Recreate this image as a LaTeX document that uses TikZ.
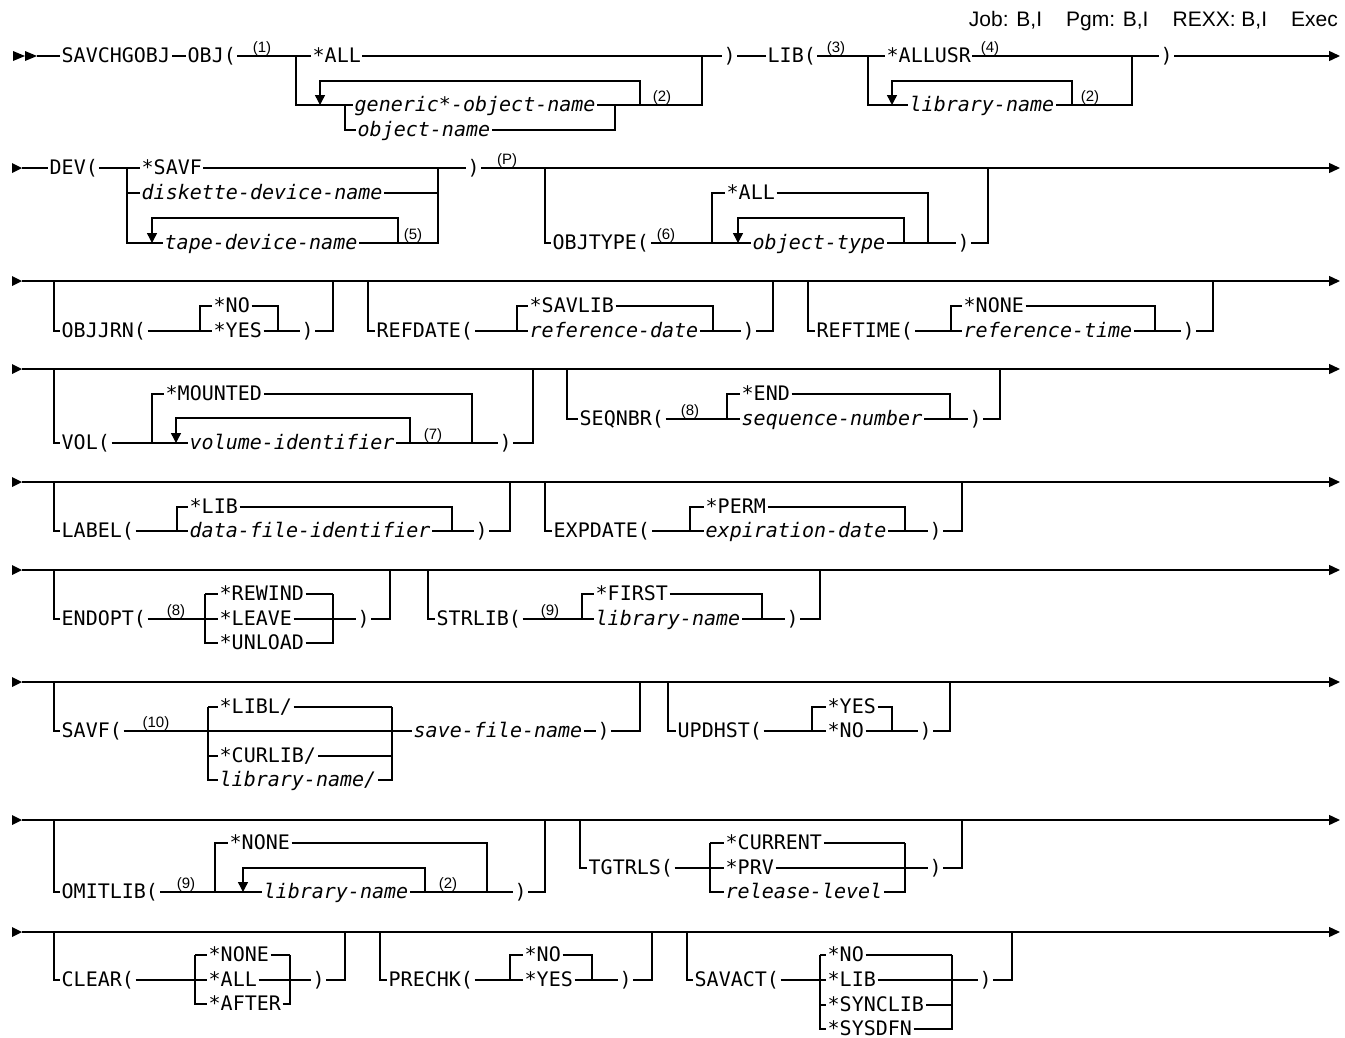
\documentclass[tikz,border=0pt]{standalone}
\usepackage{fontspec}
\setmonofont{DejaVu Sans Mono}
\newfontfamily\notefont{Liberation Sans}
\usetikzlibrary{arrows.meta,backgrounds}

\tikzstyle{kw} = [font=\ttfamily\fontsize{20}{20}\selectfont, anchor=west, fill=white, inner sep=1.5pt, text height=13pt, text depth=0pt]
\tikzstyle{var} = [kw, font=\ttfamily\itshape\fontsize{20}{20}\selectfont]
\tikzstyle{note} = [font=\notefont\fontsize{15}{15}\selectfont, anchor=south, inner sep=0.3pt]
\tikzstyle{rail} = [line width=1.4pt]
\tikzstyle{loop} = [rail, -{Triangle[length=10pt,width=10pt]}]
\tikzstyle{cont} = [rail, -{Triangle[length=11pt,width=10pt]}]

\begin{document}
\begin{tikzpicture}[x=1pt, y=-1pt]
	\useasboundingbox (0,0) rectangle (1345,1037);

	\node[anchor=base east, inner sep=0, font=\notefont\fontsize{21}{21}\selectfont] (envs) at (1338,26) {Job: B,I\hspace{24pt}Pgm: B,I\hspace{24pt}REXX: B,I\hspace{24pt}Exec};

	% SAVCHGOBJ OBJ( ... ) LIB( ... )
	\node[kw] (savchgobj) at (60,56) {SAVCHGOBJ};
	\node[kw] (obj) at (186,56) {OBJ(};
	\node[note] (n1) at (262,56) {(1)};
	\node[kw] (objall) at (311,56) {*ALL};
	\node[var] (generic) at (353,105) {generic*-object-name};
	\node[var] (objname) at (356,130) {object-name};
	\node[note] (n2a) at (662,105) {(2)};
	\node[kw] (objclose) at (722,56) {)};
	\node[kw] (lib) at (766,56) {LIB(};
	\node[note] (n3) at (836,56) {(3)};
	\node[kw] (allusr) at (885,56) {*ALLUSR};
	\node[note] (n4) at (990,56) {(4)};
	\node[var] (libname) at (908,105) {library-name};
	\node[note] (n2b) at (1090,105) {(2)};
	\node[kw] (libclose) at (1159,56) {)};

	% DEV( ... ) OBJTYPE( ... )
	\node[kw] (dev) at (48,168) {DEV(};
	\node[kw] (savf) at (140,168) {*SAVF};
	\node[var] (diskette) at (140,193) {diskette-device-name};
	\node[var] (tape) at (163,243) {tape-device-name};
	\node[note] (n5) at (413,243) {(5)};
	\node[kw] (devclose) at (466,168) {)};
	\node[note] (np) at (507,168) {(P)};
	\node[kw] (objtype) at (551,243) {OBJTYPE(};
	\node[note] (n6) at (666,243) {(6)};
	\node[kw] (typeall) at (725,193) {*ALL};
	\node[var] (typename) at (751,243) {object-type};
	\node[kw] (typeclose) at (956,243) {)};

	% OBJJRN REFDATE REFTIME
	\node[kw] (objjrn) at (60,331) {OBJJRN(};
	\node[kw] (jrnno) at (212,306) {*NO};
	\node[kw] (jrnyes) at (212,331) {*YES};
	\node[kw] (jrnclose) at (300,331) {)};
	\node[kw] (refdate) at (375,331) {REFDATE(};
	\node[kw] (savlib) at (528,306) {*SAVLIB};
	\node[var] (datev) at (528,331) {reference-date};
	\node[kw] (dateclose) at (741,331) {)};
	\node[kw] (reftime) at (815,331) {REFTIME(};
	\node[kw] (timenone) at (962,306) {*NONE};
	\node[var] (timev) at (962,331) {reference-time};
	\node[kw] (timeclose) at (1181,331) {)};

	% VOL SEQNBR
	\node[kw] (vol) at (60,443) {VOL(};
	\node[kw] (mounted) at (164,394) {*MOUNTED};
	\node[var] (volid) at (188,443) {volume-identifier};
	\node[note] (n7) at (433,443) {(7)};
	\node[kw] (volclose) at (498,443) {)};
	\node[kw] (seqnbr) at (578,419) {SEQNBR(};
	\node[note] (n8a) at (690,419) {(8)};
	\node[kw] (seqend) at (740,394) {*END};
	\node[var] (seqnum) at (740,419) {sequence-number};
	\node[kw] (seqclose) at (968,419) {)};

	% LABEL EXPDATE
	\node[kw] (label) at (60,531) {LABEL(};
	\node[kw] (lablib) at (188,507) {*LIB};
	\node[var] (datafile) at (188,531) {data-file-identifier};
	\node[kw] (labclose) at (474,531) {)};
	\node[kw] (expdate) at (552,531) {EXPDATE(};
	\node[kw] (perm) at (704,507) {*PERM};
	\node[var] (expv) at (704,531) {expiration-date};
	\node[kw] (expclose) at (928,531) {)};

	% ENDOPT STRLIB
	\node[kw] (endopt) at (60,619) {ENDOPT(};
	\node[note] (n8b) at (176,619) {(8)};
	\node[kw] (rewind) at (218,594) {*REWIND};
	\node[kw] (leave) at (218,619) {*LEAVE};
	\node[kw] (unload) at (218,643) {*UNLOAD};
	\node[kw] (endclose) at (356,619) {)};
	\node[kw] (strlib) at (435,619) {STRLIB(};
	\node[note] (n9a) at (550,619) {(9)};
	\node[kw] (first) at (594,594) {*FIRST};
	\node[var] (strname) at (594,619) {library-name};
	\node[kw] (strclose) at (785,619) {)};

	% SAVF UPDHST
	\node[kw] (savfkw) at (60,731) {SAVF(};
	\node[note] (n10) at (156,731) {(10)};
	\node[kw] (libl) at (218,707) {*LIBL/};
	\node[kw] (curlib) at (218,756) {*CURLIB/};
	\node[var] (savflib) at (218,780) {library-name/};
	\node[var] (savfname) at (412,731) {save-file-name};
	\node[kw] (savfclose) at (596,731) {)};
	\node[kw] (updhst) at (676,731) {UPDHST(};
	\node[kw] (updyes) at (826,707) {*YES};
	\node[kw] (updno) at (826,731) {*NO};
	\node[kw] (updclose) at (918,731) {)};

	% OMITLIB TGTRLS
	\node[kw] (omitlib) at (60,892) {OMITLIB(};
	\node[note] (n9b) at (186,892) {(9)};
	\node[kw] (omitnone) at (228,843) {*NONE};
	\node[var] (omitname) at (262,892) {library-name};
	\node[note] (n2c) at (448,892) {(2)};
	\node[kw] (omitclose) at (513,892) {)};
	\node[kw] (tgtrls) at (587,868) {TGTRLS(};
	\node[kw] (current) at (724,843) {*CURRENT};
	\node[kw] (prv) at (724,868) {*PRV};
	\node[var] (rellevel) at (724,892) {release-level};
	\node[kw] (tgtclose) at (928,868) {)};

	% CLEAR PRECHK SAVACT
	\node[kw] (clear) at (60,980) {CLEAR(};
	\node[kw] (clrnone) at (207,955) {*NONE};
	\node[kw] (clrall) at (207,980) {*ALL};
	\node[kw] (clrafter) at (207,1004) {*AFTER};
	\node[kw] (clrclose) at (311,980) {)};
	\node[kw] (prechk) at (387,980) {PRECHK(};
	\node[kw] (prechkno) at (523,955) {*NO};
	\node[kw] (prechkyes) at (523,980) {*YES};
	\node[kw] (prechkclose) at (618,980) {)};
	\node[kw] (savact) at (693,980) {SAVACT(};
	\node[kw] (actno) at (826,955) {*NO};
	\node[kw] (actlib) at (826,980) {*LIB};
	\node[kw] (actsync) at (826,1005) {*SYNCLIB};
	\node[kw] (actsys) at (826,1029) {*SYSDFN};
	\node[kw] (actclose) at (978,980) {)};

	\begin{scope}[on background layer]
	\fill[white] (0,0) rectangle (1345,1037);

	\fill (13,51) -- (25,56) -- (13,61) -- cycle;
	\fill (25,51) -- (37,56) -- (25,61) -- cycle;
	\draw[cont] (37,56) -- (1340,56);
	\draw[rail] (296,56) |- (generic) -| (702,56);
	\draw[rail] (345,105) |- (objname) -| (615,105);
	\draw[loop] (640,105) |- (320,81) -- (320,105);
	\draw[rail] (868,56) |- (libname) -| (1132,56);
	\draw[loop] (1072,105) |- (892,81) -- (892,105);

	\fill (12,163) -- (22,168) -- (12,173) -- cycle;
	\draw[cont] (22,168) -- (1340,168);
	\draw[rail] (127,168) |- (tape) -| (438,168);
	\draw[rail] (127,193) -- (diskette) -- (438,193);
	\draw[loop] (398,243) |- (152,218) -- (152,243);
	\draw[rail] (545,168) |- (objtype) -- (typename) -- (typeclose) -| (988,168);
	\draw[rail] (712,243) |- (typeall) -| (928,243);
	\draw[loop] (904,243) |- (738,218) -- (738,243);

	\fill (12,276) -- (22,281) -- (12,286) -- cycle;
	\draw[cont] (22,281) -- (1340,281);
	\draw[rail] (54,281) |- (objjrn) -- (jrnyes) -- (jrnclose) -| (333,281);
	\draw[rail] (200,331) |- (jrnno) -| (278,331);
	\draw[rail] (368,281) |- (refdate) -- (datev) -- (dateclose) -| (773,281);
	\draw[rail] (517,331) |- (savlib) -| (713,331);
	\draw[rail] (808,281) |- (reftime) -- (timev) -- (timeclose) -| (1213,281);
	\draw[rail] (951,331) |- (timenone) -| (1155,331);

	\fill (12,364) -- (22,369) -- (12,374) -- cycle;
	\draw[cont] (22,369) -- (1340,369);
	\draw[rail] (54,369) |- (vol) -- (volid) -- (volclose) -| (533,369);
	\draw[rail] (152,443) |- (mounted) -| (472,443);
	\draw[loop] (410,443) |- (176,418) -- (176,443);
	\draw[rail] (567,369) |- (seqnbr) -- (seqnum) -- (seqclose) -| (1000,369);
	\draw[rail] (727,419) |- (seqend) -| (950,419);

	\fill (12,477) -- (22,482) -- (12,487) -- cycle;
	\draw[cont] (22,482) -- (1340,482);
	\draw[rail] (54,482) |- (label) -- (datafile) -- (labclose) -| (510,482);
	\draw[rail] (177,531) |- (lablib) -| (452,531);
	\draw[rail] (545,482) |- (expdate) -- (expv) -- (expclose) -| (962,482);
	\draw[rail] (690,531) |- (perm) -| (905,531);

	\fill (12,565) -- (22,570) -- (12,575) -- cycle;
	\draw[cont] (22,570) -- (1340,570);
	\draw[rail] (54,570) |- (endopt) -- (leave) -- (endclose) -| (390,570);
	\draw[rail] (205,594) |- (unload) -| (333,594);
	\draw[rail] (205,594) -- (rewind) -- (333,594);
	\draw[rail] (428,570) |- (strlib) -- (strname) -- (strclose) -| (820,570);
	\draw[rail] (582,619) |- (first) -| (762,619);

	\fill (12,677) -- (22,682) -- (12,687) -- cycle;
	\draw[cont] (22,682) -- (1340,682);
	\draw[rail] (54,682) |- (savfkw) -- (savfname) -- (savfclose) -| (640,682);
	\draw[rail] (208,707) |- (savflib) -| (392,707);
	\draw[rail] (208,707) -- (libl) -- (392,707);
	\draw[rail] (208,756) -- (curlib) -- (392,756);
	\draw[rail] (668,682) |- (updhst) -- (updno) -- (updclose) -| (950,682);
	\draw[rail] (812,731) |- (updyes) -| (892,731);

	\fill (12,815) -- (22,820) -- (12,825) -- cycle;
	\draw[cont] (22,820) -- (1340,820);
	\draw[rail] (54,820) |- (omitlib) -- (omitname) -- (omitclose) -| (545,820);
	\draw[rail] (215,892) |- (omitnone) -| (487,892);
	\draw[loop] (425,892) |- (243,868) -- (243,892);
	\draw[rail] (580,820) |- (tgtrls) -- (prv) -- (tgtclose) -| (962,820);
	\draw[rail] (710,843) |- (rellevel) -| (905,843);
	\draw[rail] (710,843) -- (current) -- (905,843);

	\fill (12,927) -- (22,932) -- (12,937) -- cycle;
	\draw[cont] (22,932) -- (1340,932);
	\draw[rail] (54,932) |- (clear) -- (clrall) -- (clrclose) -| (345,932);
	\draw[rail] (195,955) |- (clrafter) -| (290,955);
	\draw[rail] (195,955) -- (clrnone) -- (290,955);
	\draw[rail] (380,932) |- (prechk) -- (prechkyes) -- (prechkclose) -| (652,932);
	\draw[rail] (510,980) |- (prechkno) -| (592,980);
	\draw[rail] (687,932) |- (savact) -- (actlib) -- (actclose) -| (1012,932);
	\draw[rail] (820,955) |- (actsys) -| (952,955);
	\draw[rail] (820,955) -- (actno) -- (952,955);
	\draw[rail] (820,1005) -- (actsync) -- (952,1005);
	\end{scope}
\end{tikzpicture}
\end{document}
